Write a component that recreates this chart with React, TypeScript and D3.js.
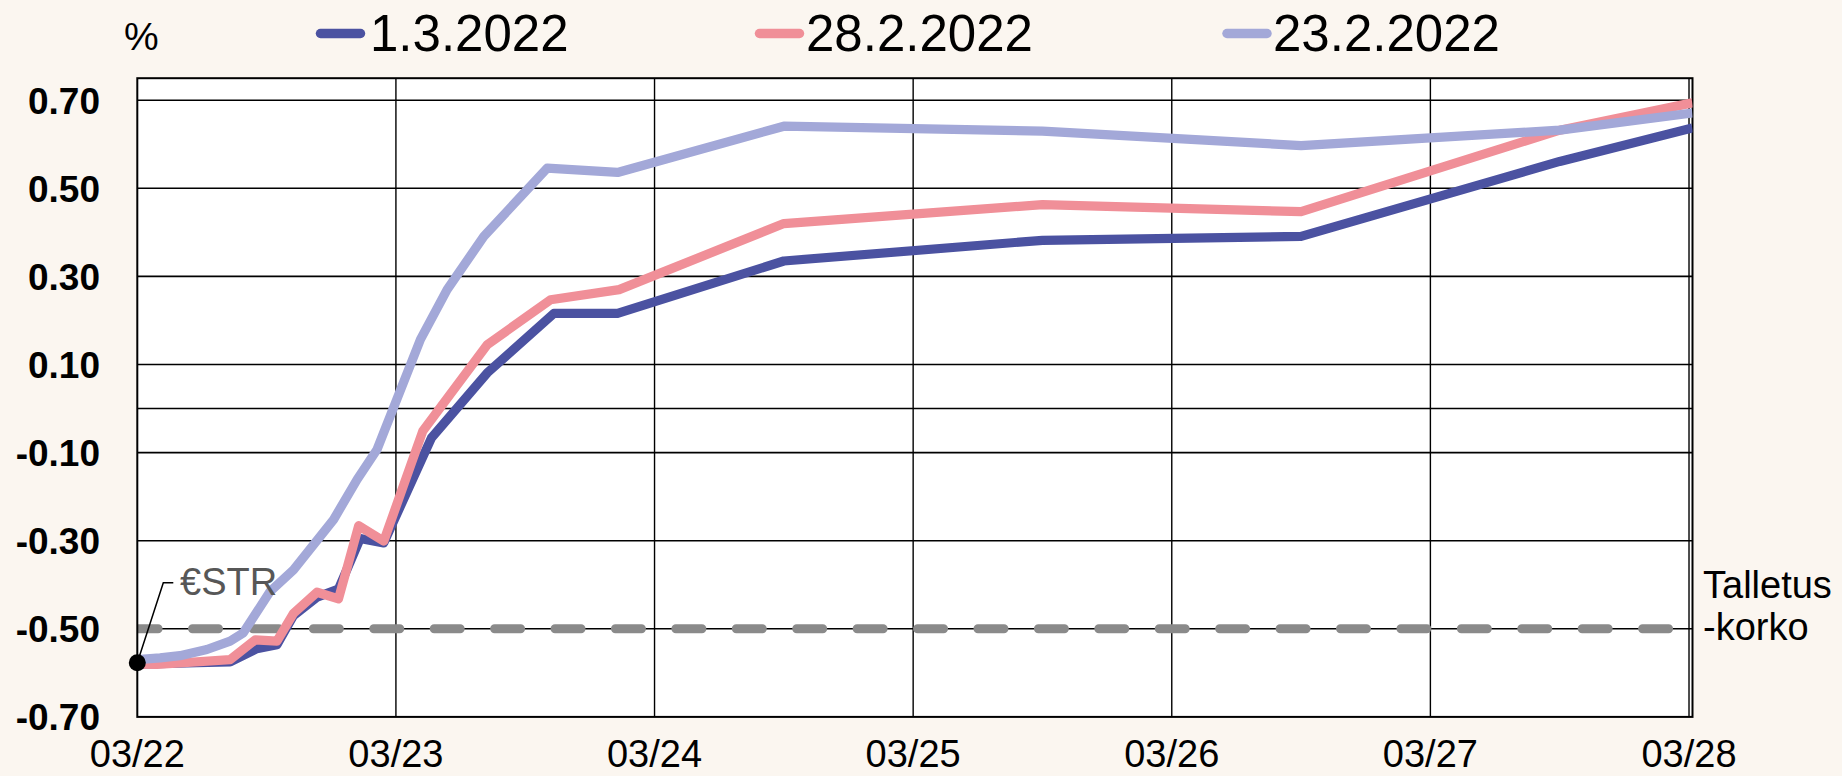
import React from "react";
import * as d3 from "d3";

// ---------- data ----------
const X_TICK_LABELS = ["03/22", "03/23", "03/24", "03/25", "03/26", "03/27", "03/28"];
const Y_TICKS = [0.7, 0.5, 0.3, 0.1, -0.1, -0.3, -0.5, -0.7];
const Y_GRID = [0.7, 0.5, 0.3, 0.1, 0.0, -0.1, -0.3, -0.5];
const SERIES_NAMES = ["1.3.2022", "28.2.2022", "23.2.2022"];

// years after 03/22 and rate (%)
const tenor1Mar = [0, 0.23, 0.359, 0.462, 0.54, 0.604, 0.695, 0.778, 0.862, 0.953, 1.137, 1.353, 1.611, 1.857, 2.5, 3.5, 4.5, 5.5, 6.013];
const rate1Mar = [-0.58, -0.577, -0.575, -0.545, -0.536, -0.47, -0.428, -0.41, -0.295, -0.305, -0.067, 0.081, 0.216, 0.216, 0.335, 0.382, 0.391, 0.561, 0.637];

const tenor28Feb = [0, 0.075, 0.359, 0.456, 0.54, 0.604, 0.695, 0.778, 0.856, 0.953, 1.104, 1.353, 1.598, 1.863, 2.5, 3.5, 4.5, 5.5, 6.013];
const rate28Feb = [-0.58, -0.581, -0.57, -0.525, -0.528, -0.465, -0.417, -0.432, -0.266, -0.301, -0.051, 0.145, 0.247, 0.27, 0.42, 0.463, 0.447, 0.632, 0.694];

const tenor23Feb = [0, 0.088, 0.165, 0.269, 0.359, 0.41, 0.514, 0.604, 0.759, 0.85, 0.927, 1.095, 1.198, 1.34, 1.585, 1.857, 2.5, 3.5, 4.5, 5.5, 6.013];
const rate23Feb = [-0.57, -0.566, -0.561, -0.547, -0.528, -0.509, -0.415, -0.366, -0.252, -0.161, -0.093, 0.157, 0.27, 0.391, 0.546, 0.536, 0.641, 0.63, 0.597, 0.632, 0.671];

const DEPOSIT_RATE = -0.5;
const ESTR_RATE = -0.577;

// ---------- layout ----------
const W = 1842;
const H = 776;
const PL = 137.3;
const PR = 1692.5;
const PT = 78.2;
const PB = 716.9;
const X_MAX = 6.0135;
const Y_MIN = -0.7;
const Y_MAX = 0.75;

const COLORS = ["#4b52a1", "#f08f98", "#a3a8d8"];
const BG = "#fbf6f0";
const FONT = "'Liberation Sans', Arial, sans-serif";

export default function App() {
  const x = d3.scaleLinear().domain([0, X_MAX]).range([PL, PR]);
  const y = d3.scaleLinear().domain([Y_MIN, Y_MAX]).range([PB, PT]);

  const series = [
    { name: SERIES_NAMES[0], t: tenor1Mar, v: rate1Mar, color: COLORS[0] },
    { name: SERIES_NAMES[1], t: tenor28Feb, v: rate28Feb, color: COLORS[1] },
    { name: SERIES_NAMES[2], t: tenor23Feb, v: rate23Feb, color: COLORS[2] },
  ];

  const line = d3
    .line<[number, number]>()
    .x((d) => x(d[0]))
    .y((d) => y(d[1]));

  const legendItems = [
    { sx: 320.5, tx: 370 },
    { sx: 759.5, tx: 806 },
    { sx: 1227, tx: 1273 },
  ];

  const dotX = x(0);
  const dotY = y(ESTR_RATE);

  return (
    <svg
      width={W}
      height={H}
      style={{ position: "fixed", left: 0, top: 0, display: "block" }}
      fontFamily={FONT}
    >
      <defs>
        <clipPath id="plotClip">
          <rect x={PL} y={PT} width={PR - PL} height={PB - PT} />
        </clipPath>
      </defs>
      <rect x={0} y={0} width={W} height={H} fill={BG} />
      <rect x={PL} y={PT} width={PR - PL} height={PB - PT} fill="#ffffff" />

      {/* horizontal grid */}
      {Y_GRID.map((v) => (
        <line key={"hg" + v} x1={PL} x2={PR} y1={y(v)} y2={y(v)} stroke="#000" strokeWidth={1.6} />
      ))}
      {/* vertical grid */}
      {X_TICK_LABELS.map((_, i) =>
        i === 0 ? null : (
          <line key={"vg" + i} x1={x(i)} x2={x(i)} y1={PT} y2={PB} stroke="#000" strokeWidth={1.4} />
        )
      )}

      {/* deposit rate dashed */}
      <g clipPath="url(#plotClip)">
        <line
          x1={132.1}
          x2={1670}
          y1={y(DEPOSIT_RATE)}
          y2={y(DEPOSIT_RATE)}
          stroke="#8a8a8a"
          strokeWidth={9}
          strokeDasharray="26 34.42"
          strokeLinecap="round"
        />
      </g>

      {/* plot border */}
      <rect x={PL} y={PT} width={PR - PL} height={PB - PT} fill="none" stroke="#000" strokeWidth={2} />

      {/* series */}
      <g clipPath="url(#plotClip)">
        {series.map((s) => (
          <path
            key={s.name}
            d={line(s.t.map((t, i) => [t, s.v[i]] as [number, number])) || ""}
            fill="none"
            stroke={s.color}
            strokeWidth={9.2}
            strokeLinejoin="round"
          />
        ))}
      </g>

      {/* €STR marker */}
      <polyline
        points={`${dotX},${dotY} 163.3,582.7 173.3,582.7`}
        fill="none"
        stroke="#000"
        strokeWidth={1.5}
      />
      <circle cx={dotX} cy={dotY} r={8.5} fill="#000" />
      <text x={180} y={595} fontSize={38} fill="#575757">
        €STR
      </text>

      {/* deposit rate label */}
      <text x={1703} y={598} fontSize={38} fill="#000">
        Talletus
      </text>
      <text x={1703} y={640} fontSize={38} fill="#000">
        -korko
      </text>

      {/* y tick labels */}
      {Y_TICKS.map((v) => (
        <text
          key={"yt" + v}
          x={100}
          y={y(v)}
          dy="0.36em"
          textAnchor="end"
          fontSize={37}
          fontWeight="bold"
          fill="#000"
        >
          {v.toFixed(2)}
        </text>
      ))}

      {/* x tick labels */}
      {X_TICK_LABELS.map((lab, i) => (
        <text key={"xt" + lab} x={x(i)} y={767} textAnchor="middle" fontSize={38} fill="#000">
          {lab}
        </text>
      ))}

      {/* unit */}
      <text x={124} y={50} fontSize={39} fill="#000">
        %
      </text>

      {/* legend */}
      {series.map((s, i) => (
        <g key={"lg" + s.name}>
          <line
            x1={legendItems[i].sx}
            x2={legendItems[i].sx + 40}
            y1={33.5}
            y2={33.5}
            stroke={s.color}
            strokeWidth={9.5}
            strokeLinecap="round"
          />
          <text x={legendItems[i].tx} y={51} fontSize={51} fill="#000">
            {s.name}
          </text>
        </g>
      ))}
    </svg>
  );
}
